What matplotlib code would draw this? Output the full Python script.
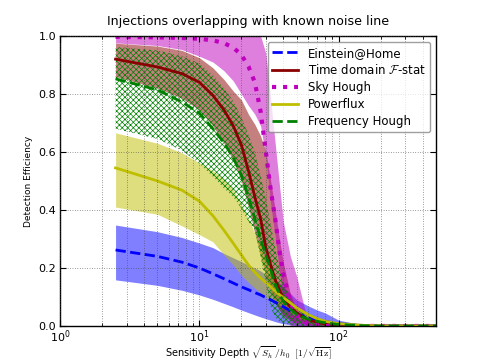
import matplotlib
matplotlib.use("Agg")
import matplotlib.pyplot as plt
import numpy as np

plt.rcParams['mathtext.fontset'] = 'cm'
plt.rcParams['font.family'] = ['DejaVu Sans']
plt.rcParams['hatch.linewidth'] = 0.5

depth = [2.5, 5, 7.5, 10, 12.5, 15, 17.5, 20, 22.5, 25, 27.5, 30, 32.5, 35,
         37.5, 40, 45, 50, 60, 70, 80, 100, 150, 200, 500]

eah_mean = [0.262, 0.24, 0.22, 0.20, 0.18, 0.163, 0.148, 0.135, 0.125, 0.115, 0.107, 0.098,
            0.09, 0.082, 0.074, 0.067, 0.052, 0.042, 0.03, 0.022, 0.015, 0.008, 0.001, 0, 0]
eah_hi = [0.348, 0.325, 0.305, 0.286, 0.27, 0.25, 0.235, 0.222, 0.21, 0.2, 0.19, 0.178,
          0.167, 0.157, 0.148, 0.135, 0.112, 0.09, 0.07, 0.055, 0.045, 0.02, 0.004, 0.001, 0]
eah_lo = [0.159, 0.14, 0.123, 0.107, 0.092, 0.078, 0.066, 0.055, 0.046, 0.038, 0.031, 0.025,
          0.02, 0.015, 0.011, 0.008, 0.004, 0.002, 0, 0, 0, 0, 0, 0, 0]

td_mean = [0.92, 0.893, 0.87, 0.84, 0.795, 0.745, 0.69, 0.625, 0.535, 0.445, 0.37, 0.27,
           0.21, 0.16, 0.125, 0.095, 0.065, 0.045, 0.022, 0.012, 0.007, 0.003, 0, 0, 0]
td_hi = [0.975, 0.965, 0.95, 0.925, 0.89, 0.85, 0.81, 0.78, 0.73, 0.695, 0.655, 0.6,
         0.5, 0.4, 0.3, 0.22, 0.11, 0.05, 0.02, 0.01, 0.005, 0.001, 0, 0, 0]
td_lo = [0.86, 0.82, 0.785, 0.745, 0.69, 0.63, 0.57, 0.5, 0.41, 0.32, 0.24, 0.17,
         0.12, 0.08, 0.055, 0.035, 0.02, 0.012, 0.005, 0.002, 0, 0, 0, 0, 0]

sh_mean = [0.997, 0.995, 0.993, 0.99, 0.985, 0.975, 0.96, 0.935, 0.895, 0.84, 0.74, 0.6,
           0.47, 0.37, 0.26, 0.18, 0.08, 0.035, 0.008, 0.002, 0, 0, 0, 0, 0]
sh_hi = [1.0, 1.0, 1.0, 1.0, 1.0, 1.0, 1.0, 1.0, 1.0, 1.0, 1.0, 0.94,
         0.78, 0.63, 0.49, 0.36, 0.24, 0.17, 0.015, 0, 0, 0, 0, 0, 0]
sh_lo = [0.976, 0.967, 0.953, 0.93, 0.91, 0.88, 0.845, 0.80, 0.76, 0.73, 0.69, 0.58,
         0.42, 0.31, 0.19, 0.10, 0, 0, 0, 0, 0, 0, 0, 0, 0]

pf_mean = [0.545, 0.50, 0.468, 0.43, 0.38, 0.33, 0.285, 0.245, 0.21, 0.185, 0.165, 0.15,
           0.135, 0.12, 0.108, 0.098, 0.08, 0.062, 0.04, 0.025, 0.016, 0.008, 0.002, 0, 0]
pf_hi = [0.666, 0.63, 0.597, 0.562, 0.535, 0.505, 0.47, 0.42, 0.37, 0.32, 0.275, 0.225,
         0.19, 0.16, 0.13, 0.105, 0.075, 0.055, 0.035, 0.022, 0.015, 0.008, 0.002, 0, 0]
pf_lo = [0.41, 0.385, 0.345, 0.315, 0.29, 0.245, 0.21, 0.175, 0.15, 0.13, 0.115, 0.10,
         0.09, 0.08, 0.072, 0.065, 0.045, 0.03, 0.018, 0.01, 0.006, 0.002, 0, 0, 0]

fh_mean = [0.852, 0.814, 0.772, 0.734, 0.68, 0.632, 0.58, 0.52, 0.445, 0.37, 0.30, 0.245,
           0.195, 0.145, 0.11, 0.085, 0.058, 0.04, 0.024, 0.016, 0.011, 0.005, 0.001, 0, 0]
fh_hi = [0.962, 0.95, 0.93, 0.905, 0.865, 0.82, 0.775, 0.72, 0.66, 0.6, 0.52, 0.44,
         0.35, 0.27, 0.2, 0.15, 0.09, 0.06, 0.035, 0.022, 0.015, 0.007, 0.002, 0, 0]
fh_lo = [0.68, 0.645, 0.605, 0.56, 0.515, 0.475, 0.445, 0.405, 0.36, 0.33, 0.24, 0.15,
         0.065, 0.03, 0.015, 0.01, 0.005, 0.002, 0, 0, 0, 0, 0, 0, 0]

labels = ['Einstein@Home', r'Time domain $\mathcal{F}$-stat', 'Sky Hough', 'Powerflux',
          'Frequency Hough']
title = 'Injections overlapping with known noise line'

fig = plt.figure(figsize=(4.85, 3.63), dpi=100)
ax = fig.add_axes([0.124, 0.102, 0.775, 0.799])

ax.fill_between(depth, eah_lo, eah_hi, color='b', alpha=0.5, lw=0)
ax.fill_between(depth, td_lo, td_hi, color='darkred', alpha=0.5, lw=0)
ax.fill_between(depth, sh_lo, sh_hi, color='m', alpha=0.5, lw=0)
ax.fill_between(depth, pf_lo, pf_hi, color='y', alpha=0.5, lw=0)
ax.fill_between(depth, fh_lo, fh_hi, facecolor='none', edgecolor='g', hatch='xxxxxx', lw=0)

ax.plot(depth, eah_mean, 'b--', lw=2, label=labels[0])
ax.plot(depth, td_mean, '-', color='darkred', lw=2, label=labels[1])
ax.plot(depth, sh_mean, 'm:', lw=3, label=labels[2])
ax.plot(depth, pf_mean, 'y-', lw=2, label=labels[3])
ax.plot(depth, fh_mean, 'g--', lw=2, label=labels[4])

ax.set_xscale('log')
ax.set_xlim(1, 500)
ax.set_ylim(0, 1)
ax.set_yticks([0.0, 0.2, 0.4, 0.6, 0.8, 1.0])
gstyle = dict(ls=(0, (1, 2.5)), color='0.25', lw=0.5)
ax.grid(True, which='major', axis='both', **gstyle)
ax.grid(True, which='minor', axis='x', **gstyle)
ax.set_axisbelow(False)
ax.tick_params(which='both', direction='in', top=True, right=True, labelsize=8, pad=3)
ax.tick_params(axis='x', which='both', pad=1.5)
ax.tick_params(which='major', length=4)
ax.tick_params(which='minor', length=2)
for s in ax.spines.values():
    s.set_linewidth(1.0)

ax.set_title(title, fontsize=9.1, pad=8)
ax.set_ylabel('Detection Efficiency', fontsize=6.5)
ax.set_xlabel(r'Sensitivity Depth $\sqrt{S_h}\,/h_0\ \ [1/\sqrt{\mathrm{Hz}}]$', fontsize=7)
ax.xaxis.set_label_coords(0.5, -0.064)

leg = ax.legend(loc='upper right', fontsize=8.5, framealpha=0.75, fancybox=True,
                edgecolor='0.5', handlelength=2.2, borderpad=0.4, labelspacing=0.32)

fig.savefig('out.png', dpi=100)
